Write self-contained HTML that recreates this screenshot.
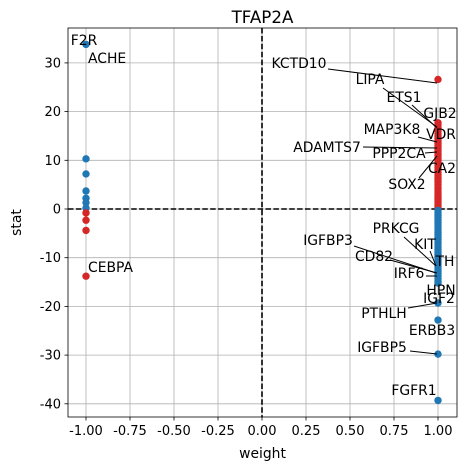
<!DOCTYPE html>
<html><head><meta charset="utf-8"><style>
body{margin:0;background:#fff}
svg{display:block;font-family:"DejaVu Sans","Liberation Sans",sans-serif}
</style></head><body>
<svg id="chart" width="466" height="470" viewBox="0 0 466 470"></svg>
<script>
const xTicks=[-1,-0.75,-0.5,-0.25,0,0.25,0.5,0.75,1];
const yTicks=[-40,-30,-20,-10,0,10,20,30];
const leftWeights=[-1,-1,-1,-1,-1,-1,-1,-1,-1,-1,-1];
const leftStats=[33.8,10.3,7.2,3.7,2.2,1.3,0.2,-0.8,-2.3,-4.4,-13.8];
const rightRedStats=[26.6,17.7,17.2,16.6,16.0,15.5,15.0,14.5,14.0,13.5,13.0,12.6,12.2,11.8,11.4,11.0,10.5,10.0,9.5,9.0,8.5,8.0,7.5,7.0,6.5,6.0,5.5,5.0,4.5,4.0,3.5,3.0,2.5,2.0,1.5,1.0,0.6,0.2];
const rightBlueStats=[-0.3,-0.8,-1.3,-1.8,-2.3,-2.8,-3.3,-3.8,-4.3,-4.8,-5.3,-5.8,-6.3,-6.8,-7.3,-7.8,-8.3,-8.8,-9.3,-9.8,-10.3,-10.8,-11.3,-11.8,-12.3,-12.8,-13.3,-13.8,-14.3,-14.8,-15.2,-19.3,-22.8,-29.8,-39.3];
const L=68,R=457,T=28,B=417;
const xs=v=>262+v*176;
const ys=v=>209-v*4.87;
const svg=document.getElementById('chart');
const NS='http://www.w3.org/2000/svg';
function el(tag,attrs,parent){const e=document.createElementNS(NS,tag);for(const k in attrs)e.setAttribute(k,attrs[k]);(parent||svg).appendChild(e);return e;}
xTicks.forEach(t=>{const g=el('line',{x1:xs(t),x2:xs(t),y1:T,y2:B,stroke:'#b0b0b0','stroke-width':0.8});


el('line',{x1:xs(t),x2:xs(t),y1:B,y2:B+3.5,stroke:'#000','stroke-width':0.8});
const tx=el('text',{x:xs(t),y:B+18,'font-size':13,'text-anchor':'middle'});tx.textContent=t.toFixed(2);

});
yTicks.forEach(t=>{const g=el('line',{x1:L,x2:R,y1:ys(t),y2:ys(t),stroke:'#b0b0b0','stroke-width':0.8});


el('line',{x1:L-3.5,x2:L,y1:ys(t),y2:ys(t),stroke:'#000','stroke-width':0.8});
const tx=el('text',{x:L-7,y:ys(t)+4.5,'font-size':13,'text-anchor':'end'});tx.textContent=t;

});
el('line',{x1:L,x2:R,y1:ys(0),y2:ys(0),stroke:'#000','stroke-width':1.6,'stroke-dasharray':'5.5,2.4'});
el('line',{x1:xs(0),x2:xs(0),y1:T,y2:B,stroke:'#000','stroke-width':1.6,'stroke-dasharray':'5.5,2.4'});
function pt(w,s){const c=el('circle',{cx:xs(w),cy:ys(s),r:3.7,fill:(w*s)>0?'#d62728':'#1f77b4'});

}
leftStats.forEach((s,i)=>pt(leftWeights[i],s));
rightRedStats.forEach(s=>pt(1,s));
rightBlueStats.forEach(s=>pt(1,s));
const labels=[
['F2R',84,45,'middle'],['ACHE',88,63,'start'],['CEBPA',88,272,'start'],
['KCTD10',299,68,'middle',[328,69,437,83]],['LIPA',370,84,'middle',[383,88,437,127]],
['ETS1',404,102,'middle',[412,105,437,128]],['GJB2',440,118,'middle'],
['MAP3K8',392,134,'middle',[418,137,437,142]],['VDR',441,139,'middle'],
['ADAMTS7',327,152,'middle',[363,147,437,148]],['PPP2CA',399,158,'middle',[425,153,437,152]],
['CA2',442,173,'middle'],['SOX2',407,189,'middle',[419,178,437,156]],
['PRKCG',396,233,'middle',[404,237,436,266]],['KIT',425,249,'middle',[430,251,436,266]],
['TH',445,266,'middle'],['IGFBP3',328,245,'middle',[354,246,436,273]],
['CD82',374,261,'middle',[390,260,437,273]],['IRF6',409,278,'middle',[426,276,437,276]],
['HPN',441,295,'middle'],['IGF2',439,303,'middle'],['PTHLH',384,318,'middle',[408,308,437,303]],
['ERBB3',432,335,'middle'],['IGFBP5',382,352,'middle',[410,351,437,354]],['FGFR1',414,395,'middle']];
labels.forEach(l=>{if(l[4]){el('line',{x1:l[4][0],y1:l[4][1],x2:l[4][2],y2:l[4][3],stroke:'#000','stroke-width':1});}
const t=el('text',{x:l[1],y:l[2],'font-size':13.9,'text-anchor':l[3]});t.textContent=l[0];

});
el('rect',{x:L,y:T,width:R-L,height:B-T,fill:'none',stroke:'#000','stroke-width':0.8});
const ti=el('text',{x:(L+R)/2,y:23,'font-size':16.7,'text-anchor':'middle'});ti.textContent='TFAP2A';


const xl=el('text',{x:(L+R)/2,y:458,'font-size':13.9,'text-anchor':'middle'});xl.textContent='weight';


const yl=el('text',{x:0,y:0,'font-size':13.9,'text-anchor':'middle',transform:'translate(21,'+((T+B)/2)+') rotate(-90)'});yl.textContent='stat';


</script>
</body></html>
